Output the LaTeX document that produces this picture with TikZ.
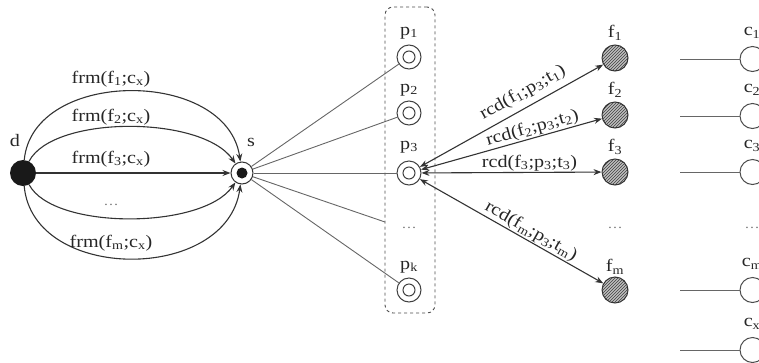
\documentclass[tikz,border=0pt]{standalone}
\usepackage{fontspec}
\setmainfont{Liberation Serif}[FakeStretch=1.15]
\usetikzlibrary{arrows.meta,patterns}
\newcommand{\sbs}[1]{\textsubscript{#1}}
\begin{document}
\begin{tikzpicture}[x=1pt,y=-1pt,
  every node/.style={font=\fontsize{17.5}{20}\selectfont, text=black!85},
  ln/.style={draw=black!80, line width=1.1pt},
  arr/.style={ln, -{Stealth[length=8pt,width=6pt]}},
  barr/.style={ln, {Stealth[length=8pt,width=6pt]}-{Stealth[length=8pt,width=6pt]}},
  thinln/.style={draw=black!60, line width=0.9pt},
  dnode/.style={circle, fill=black!90, minimum size=26pt, inner sep=0pt},
  snode/.style={circle, draw=black!80, line width=1pt, minimum size=22pt, inner sep=0pt,
     path picture={\fill[black!90] (path picture bounding box.center) circle (5.5pt);}},
  pnode/.style={circle, draw=black!75, line width=1pt, minimum size=24pt, inner sep=0pt,
     path picture={\draw[black!75,line width=1pt] (path picture bounding box.center) circle (6pt);}},
  fnode/.style={circle, draw=black!80, line width=1pt, minimum size=26pt, inner sep=0pt,
     preaction={fill=black!25}, pattern=north east lines, pattern color=black!75},
  cnode/.style={circle, draw=black!70, line width=1pt, minimum size=25pt, inner sep=0pt},
  dots/.style={text=black!55, font=\fontsize{13}{14}\selectfont},
  lbl/.style={inner sep=1pt}
]
\clip (0,0) rectangle (759,362);

% left part
\node[dnode] (d) at (23,173) {};
\node[lbl] (dl) at (15,141) {d};
\node[snode] (s) at (242,173) {};
\node[lbl] (sl) at (251,142) {s};

\draw[arr] (d) .. controls +(10,-105) and +(-15,-105) .. (s);
\draw[arr] (d) .. controls +(30,-58) and +(-40,-58) .. (s);
\draw[arr] (d) -- (s);
\draw[arr] (d) .. controls +(30,57) and +(-40,57) .. (s);
\draw[arr] (d) .. controls +(10,110) and +(-15,110) .. (s);

\node[lbl] (l1) at (111,79) {frm(f\sbs{1};c\sbs{x})};
\node[lbl] (l2) at (111,117) {frm(f\sbs{2};c\sbs{x})};
\node[lbl] (l3) at (111,159) {frm(f\sbs{3};c\sbs{x})};
\node[dots] (l4) at (111,205) {\ldots};
\node[lbl] (l5) at (111,243) {frm(f\sbs{m};c\sbs{x})};

% p column
\node[draw=black!70, dashed, line width=0.9pt, rounded corners=8pt, minimum width=50pt, minimum height=306pt, inner sep=0pt] (box) at (410,160) {};
\node[pnode] (p1) at (409,57) {};
\node[pnode] (p2) at (409,113) {};
\node[pnode] (p3) at (409,173) {};
\node[pnode] (pk) at (409,290) {};
\node[lbl] (p1l) at (409,33) {p\sbs{1}};
\node[lbl] (p2l) at (409,90) {p\sbs{2}};
\node[lbl] (p3l) at (409,147) {p\sbs{3}};
\node[lbl] (pkl) at (409,267) {p\sbs{k}};
\node[dots] (pd) at (409,228) {\ldots};
\coordinate (pe) at (385,222);

\draw[thinln] (s) -- (p1);
\draw[thinln] (s) -- (p2);
\draw[thinln] (s) -- (p3);
\draw[thinln] (s) -- (pe);
\draw[thinln] (s) -- (pk);

% f column
\node[fnode] (f1) at (615,58) {};
\node[fnode] (f2) at (615,115) {};
\node[fnode] (f3) at (615,172) {};
\node[fnode] (fm) at (615,290) {};
\node[lbl] (f1l) at (615,33) {f\sbs{1}};
\node[lbl] (f2l) at (615,90) {f\sbs{2}};
\node[lbl] (f3l) at (615,147) {f\sbs{3}};
\node[lbl] (fml) at (615,267) {f\sbs{m}};
\node[dots] (fd) at (615,228) {\ldots};

\draw[barr] (p3) -- node[lbl, sloped, above=5pt, pos=0.6] (r1) {rcd(f\sbs{1};p\sbs{3};t\sbs{1})} (f1);
\draw[barr] (p3) -- node[lbl, sloped, above=0pt, pos=0.63] (r2) {rcd(f\sbs{2};p\sbs{3};t\sbs{2})} (f2);
\draw[barr] (p3) -- node[lbl, above, pos=0.6] (r3) {rcd(f\sbs{3};p\sbs{3};t\sbs{3})} (f3);
\draw[barr] (p3) -- node[lbl, sloped, above=0pt, pos=0.58] (rm) {rcd(f\sbs{m};p\sbs{3};t\sbs{m})} (fm);

% c column
\foreach \i/\y/\t in {1/59/1, 2/116/2, 3/172/3, 4/290/m, 5/350/x} {
  \coordinate (ca\i) at (680,\y);
  \node[cnode] (c\i) at (752.5,\y) {};
  \draw[thinln] (ca\i) -- (c\i);
  \node[lbl] (cl\i) at (752,\y-26) {c\sbs{\t}};
}
\node[dots] (cd) at (752,228) {\ldots};
\end{tikzpicture}
\end{document}
